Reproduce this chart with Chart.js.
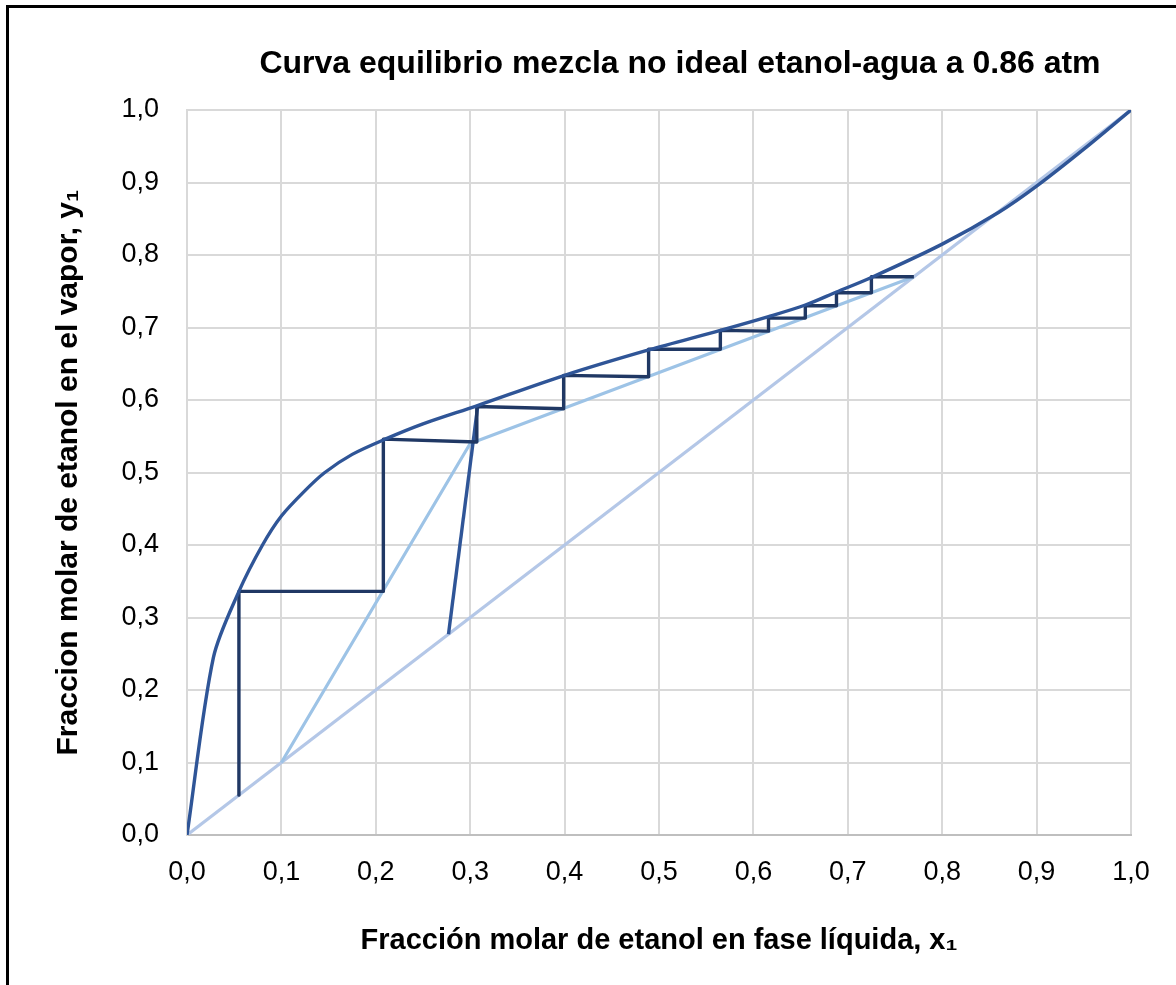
<!DOCTYPE html>
<html>
<head>
<meta charset="utf-8">
<script src="https://cdn.jsdelivr.net/npm/chart.js@4.4.1/dist/chart.umd.min.js"></script>
<style>
  html, body { margin: 0; padding: 0; background: #ffffff; overflow: hidden; width: 1176px; height: 985px; }
  #frame { position: absolute; left: 6px; top: 5px; border-left: 3px solid #000; border-top: 3px solid #000; width: 1342px; height: 990px; background: #fff; }
  #c { display: block; }
</style>
</head>
<body>
<div id="frame"><canvas id="c" width="1342" height="990"></canvas></div>
<script>
// ---- data ----
const xTickLabels = ['0,0','0,1','0,2','0,3','0,4','0,5','0,6','0,7','0,8','0,9','1,0'];
const yTickLabels = ['0,0','0,1','0,2','0,3','0,4','0,5','0,6','0,7','0,8','0,9','1,0'];

// equilibrium curve
const eqX = [0, 0.028, 0.055, 0.08, 0.10, 0.125, 0.146, 0.175, 0.21, 0.25, 0.307, 0.40, 0.489, 0.565, 0.616, 0.655, 0.688, 0.725, 0.80, 0.86, 0.90, 0.95, 1.0];
const eqY = [0, 0.245, 0.336, 0.40, 0.44, 0.475, 0.50, 0.525, 0.546, 0.567, 0.592, 0.634, 0.669, 0.696, 0.715, 0.731, 0.749, 0.769, 0.815, 0.859, 0.895, 0.946, 1.0];

// McCabe-Thiele stages
const stepX = [0.770, 0.725, 0.725, 0.688, 0.688, 0.655, 0.655, 0.616, 0.616, 0.565, 0.565, 0.489, 0.489, 0.399, 0.399, 0.307, 0.307, 0.208, 0.208, 0.055, 0.055];
const stepY = [0.770, 0.770, 0.748, 0.748, 0.730, 0.730, 0.713, 0.713, 0.695, 0.696, 0.670, 0.670, 0.632, 0.634, 0.588, 0.591, 0.542, 0.546, 0.336, 0.336, 0.055];

// feed line
const qX = [0.277, 0.308];
const qY = [0.277, 0.592];

// operating lines (stripping + rectifying)
const opX = [0.10, 0.30, 0.77];
const opY = [0.10, 0.54, 0.77];

// diagonal y = x
const diagX = [0, 1];
const diagY = [0, 1];

const pts = (xs, ys) => xs.map((x, i) => ({ x: x, y: ys[i] }));

const FONT = "'Liberation Sans', Arial, sans-serif";

const lineDs = (label, data, color, extra) => Object.assign({
  label: label,
  data: data,
  showLine: true,
  borderColor: color,
  backgroundColor: color,
  borderWidth: 3,
  pointRadius: 0,
  pointHoverRadius: 0,
  fill: false,
  tension: 0,
  borderJoinStyle: 'round'
}, extra || {});

new Chart(document.getElementById('c'), {
  type: 'scatter',
  data: {
    datasets: [
      lineDs('Equilibrio', pts(eqX, eqY), '#2f5597', { tension: 0.3, borderWidth: 3.4 }),
      lineDs('Etapas', pts(stepX, stepY), '#203864', { borderWidth: 3.4 }),
      lineDs('Alimentación', pts(qX, qY), '#2f5597', { borderWidth: 3.4 }),
      lineDs('Operación', pts(opX, opY), '#9dc3e6', { borderWidth: 3.2 }),
      lineDs('Diagonal', pts(diagX, diagY), '#b4c7e7', { borderWidth: 3.2 })
    ]
  },
  options: {
    responsive: false,
    animation: false,
    events: [],
    layout: { padding: { left: 10, right: 10, top: 0, bottom: 0 } },
    plugins: {
      legend: { display: false },
      tooltip: { enabled: false },
      title: {
        display: true,
        text: 'Curva equilibrio mezcla no ideal etanol-agua a 0.86 atm',
        color: '#000000',
        font: { family: FONT, size: 32, weight: 'bold' },
        padding: { top: 36.8, bottom: 26.8 }
      }
    },
    scales: {
      x: {
        type: 'linear',
        position: 'bottom',
        min: 0, max: 1,
        afterFit: (s) => { s.height = 163; },
        afterBuildTicks: (s) => { s.ticks = xTickLabels.map((t, i) => ({ value: i / 10 })); },
        ticks: {
          color: '#000000',
          font: { family: FONT, size: 27 },
          padding: 21.8,
          maxRotation: 0,
          autoSkip: false,
          callback: (v, i) => xTickLabels[i]
        },
        grid: { color: '#d9d9d9', lineWidth: 2, drawTicks: false },
        border: { display: true, color: '#bfbfbf', width: 2 },
        title: {
          display: true,
          text: 'Fracción molar de etanol en fase líquida, x₁',
          color: '#000000',
          font: { family: FONT, size: 29, weight: 'bold' },
          padding: { top: 39.6, bottom: 39.6 }
        }
      },
      y: {
        type: 'linear',
        position: 'left',
        min: 0, max: 1,
        afterFit: (s) => { s.width = 168; },
        afterBuildTicks: (s) => { s.ticks = yTickLabels.map((t, i) => ({ value: i / 10 })); },
        ticks: {
          color: '#000000',
          font: { family: FONT, size: 27 },
          padding: 28,
          autoSkip: false,
          callback: (v, i) => yTickLabels[i]
        },
        grid: { color: '#d9d9d9', lineWidth: 2, drawTicks: false },
        border: { display: true, color: '#d9d9d9', width: 2 },
        title: {
          display: true,
          text: 'Fraccion molar de etanol en el vapor, y₁',
          color: '#000000',
          font: { family: FONT, size: 30, weight: 'bold' },
          padding: { top: 32, bottom: 32 }
        }
      },
      yRight: {
        type: 'linear',
        position: 'right',
        display: true,
        afterFit: (s) => { s.width = 210; },
        ticks: { display: false },
        grid: { display: false, drawTicks: false },
        border: { display: false }
      }
    }
  }
});
</script>
</body>
</html>
